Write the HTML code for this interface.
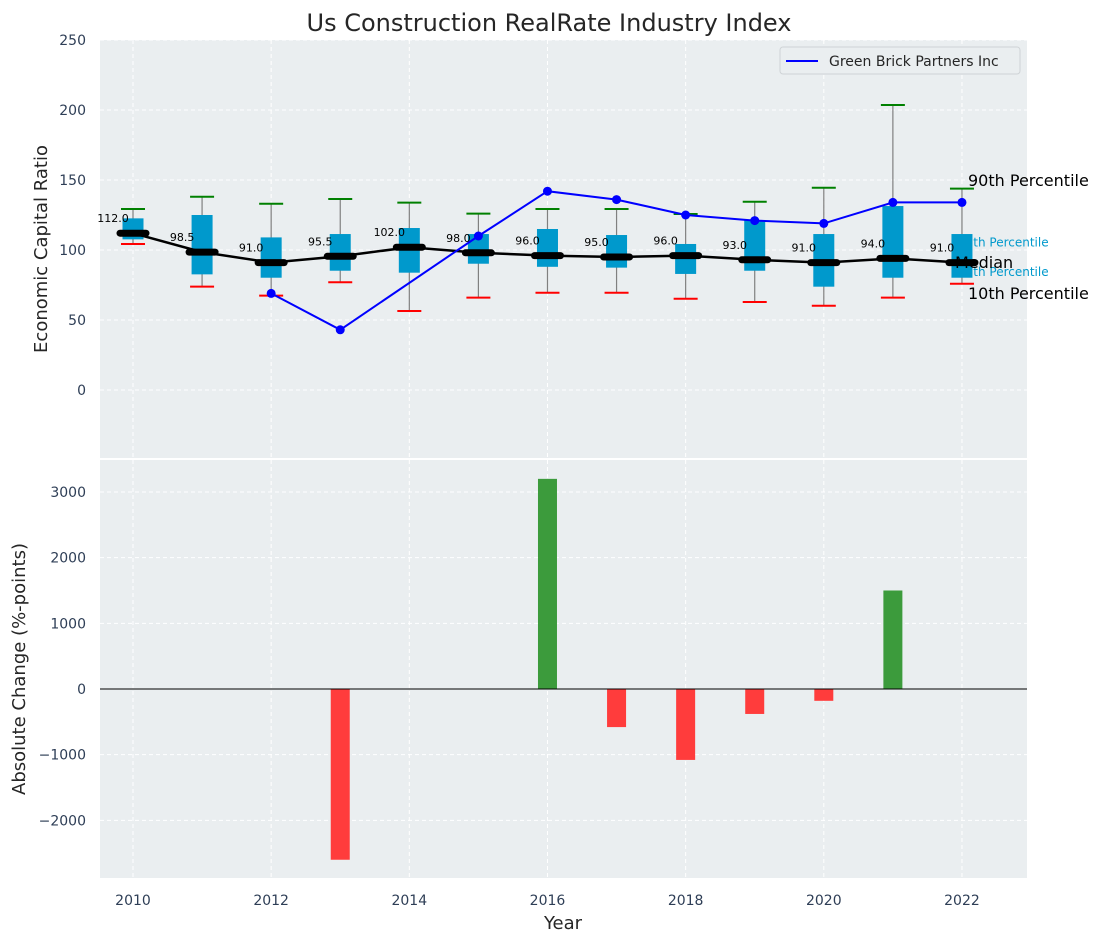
<!DOCTYPE html>
<html><head><meta charset="utf-8"><style>
body{margin:0;background:#fff;}
svg{display:block;font-family:"DejaVu Sans","Liberation Sans",sans-serif;}
</style></head><body>
<svg id="c" width="1103" height="942" xmlns="http://www.w3.org/2000/svg">
<text x="549" y="31" text-anchor="middle" font-size="24" fill="#262626">Us Construction RealRate Industry Index</text>
<rect x="100" y="40" width="927" height="418" fill="#eaeef0"/>
<rect x="100" y="460" width="927" height="418" fill="#eaeef0"/>
<g id="grid"></g>
<g id="top"></g>
<g id="bot"></g>
<g id="axes"></g>
<text transform="translate(47,249) rotate(-90)" text-anchor="middle" font-size="18" fill="#262626">Economic Capital Ratio</text>
<text transform="translate(25,669) rotate(-90)" text-anchor="middle" font-size="18" fill="#262626">Absolute Change (%-points)</text>
<text x="563" y="929" text-anchor="middle" font-size="18" fill="#262626">Year</text>
<g>
<rect x="780" y="47" width="240" height="27" rx="3" fill="#eaeef0" stroke="#cfd3d6"/>
<line x1="786" y1="61" x2="818" y2="61" stroke="#0000ff" stroke-width="2"/>
<text x="829" y="66" font-size="14" fill="#262626">Green Brick Partners Inc</text>
</g>
</svg>
<script>
const years=[2010,2011,2012,2013,2014,2015,2016,2017,2018,2019,2020,2021,2022];
const medians=[112,98.5,91,95.5,102,98,96,95,96,93,91,94,91];
const q1=[107.6,82.6,80.2,85.2,83.8,90.2,88,87.4,82.9,85.2,73.8,80.2,80.2];
const q3=[122.6,125,109,111.4,115.7,111.4,115,110.7,104.3,121.4,111.4,131.4,111.4];
const p10=[104.3,73.8,67.4,77,56.4,66,69.5,69.5,65.2,62.9,60.2,66,75.9];
const p90=[129.3,138,133,136.4,133.8,126,129.3,129.3,125.7,134.5,144.5,203.6,143.8];
const compYears=[2012,2013,2015,2016,2017,2018,2019,2020,2021,2022];
const compVals=[69,43,110,142,136,125,121,119,134,134];
const chgYears=[2013,2016,2017,2018,2019,2020,2021];
const chgVals=[-2600,3200,-580,-1080,-380,-180,1500];
const topTicks=[0,50,100,150,200,250];
const botTicks=[-2000,-1000,0,1000,2000,3000];
const xTicks=[2010,2012,2014,2016,2018,2020,2022];

const NS="http://www.w3.org/2000/svg";
const X=v=>133+(v-2010)*69.08;
const Y=v=>390-v*1.4;
const YB=v=>689-v*0.06567;
function mk(parent,tag,a,txt){const e=document.createElementNS(NS,tag);for(const k in a)e.setAttribute(k,a[k]);if(txt!==undefined)e.textContent=txt;document.getElementById(parent).appendChild(e);return e;}

xTicks.forEach(t=>{
 let g=mk('grid','line',{x1:X(t),x2:X(t),y1:40,y2:458,stroke:'#fff','stroke-dasharray':'4,3'});
 
 
 let g2=mk('grid','line',{x1:X(t),x2:X(t),y1:460,y2:878,stroke:'#fff','stroke-dasharray':'4,3'});
 
 
 let l=mk('axes','text',{x:X(t),y:905,'text-anchor':'middle','font-size':14,fill:'#2e3e56'},t);
 
 
});
topTicks.forEach(t=>{
 let g=mk('grid','line',{x1:100,x2:1027,y1:Y(t),y2:Y(t),stroke:'#fff','stroke-dasharray':'4,3'});
 
 
 let l=mk('axes','text',{x:86,y:Y(t)+5,'text-anchor':'end','font-size':14,fill:'#2e3e56'},t);
 
 
});
botTicks.forEach(t=>{
 let g=mk('grid','line',{x1:100,x2:1027,y1:YB(t),y2:YB(t),stroke:'#fff','stroke-dasharray':'4,3'});
 
 
 let l=mk('axes','text',{x:86,y:YB(t)+5,'text-anchor':'end','font-size':14,fill:'#2e3e56'},t<0?'\u2212'+(-t):t);
 
 
});

let a1=mk('top','text',{x:958,y:Y(106)+5,'font-size':12,fill:'#0099cc'},'75th Percentile');


let a2=mk('top','text',{x:958,y:Y(85)+5,'font-size':12,fill:'#0099cc'},'25th Percentile');



years.forEach((y,i)=>{
 const x=X(y);
 let w=mk('top','line',{x1:x,x2:x,y1:Y(p10[i]),y2:Y(p90[i]),stroke:'#808080','stroke-width':1.2});
 
 
 let b=mk('top','rect',{x:x-10.5,y:Y(q3[i]),width:21,height:Y(q1[i])-Y(q3[i]),fill:'#0099cc'});
 
 
 let c1=mk('top','line',{x1:x-12,x2:x+12,y1:Y(p90[i]),y2:Y(p90[i]),stroke:'#008000','stroke-width':2});
 
 
 let c2=mk('top','line',{x1:x-12,x2:x+12,y1:Y(p10[i]),y2:Y(p10[i]),stroke:'#ff0000','stroke-width':2});
 
 
});
let mp=mk('top','polyline',{points:years.map((y,i)=>X(y)+','+Y(medians[i])).join(' '),fill:'none',stroke:'#000','stroke-width':2.5});


years.forEach((y,i)=>{
 let m=mk('top','line',{x1:X(y)-13,x2:X(y)+13,y1:Y(medians[i]),y2:Y(medians[i]),stroke:'#000','stroke-width':7,'stroke-linecap':'round'});
 
 
 let t=mk('top','text',{x:X(y)-20,y:Y(medians[i])-11,'text-anchor':'middle','font-size':11,fill:'#000'},medians[i].toFixed(1));
 
 
});
let cl=mk('top','polyline',{points:compYears.map((y,i)=>X(y)+','+Y(compVals[i])).join(' '),fill:'none',stroke:'#0000ff','stroke-width':2});


compYears.forEach((y,i)=>{
 let p=mk('top','circle',{cx:X(y),cy:Y(compVals[i]),r:4.5,fill:'#0000ff'});
 
 
});
[['90th Percentile',968,186,'p90-annotation'],['Median',955,268,'median-annotation'],['10th Percentile',968,299,'p10-annotation']].forEach(d=>{
 let t=mk('top','text',{x:d[1],y:d[2],'font-size':16,fill:'#000'},d[0]);
 
 
});

chgYears.forEach((y,i)=>{
 const v=chgVals[i];
 let r=mk('bot','rect',{x:X(y)-9.5,y:Math.min(YB(v),YB(0)),width:19,height:Math.abs(YB(v)-YB(0)),fill:v>=0?'#3c9b3c':'#ff3c3c'});
 
 
});
let z=mk('bot','line',{x1:100,x2:1027,y1:YB(0),y2:YB(0),stroke:'#000','stroke-width':1});


</script>
</body></html>
